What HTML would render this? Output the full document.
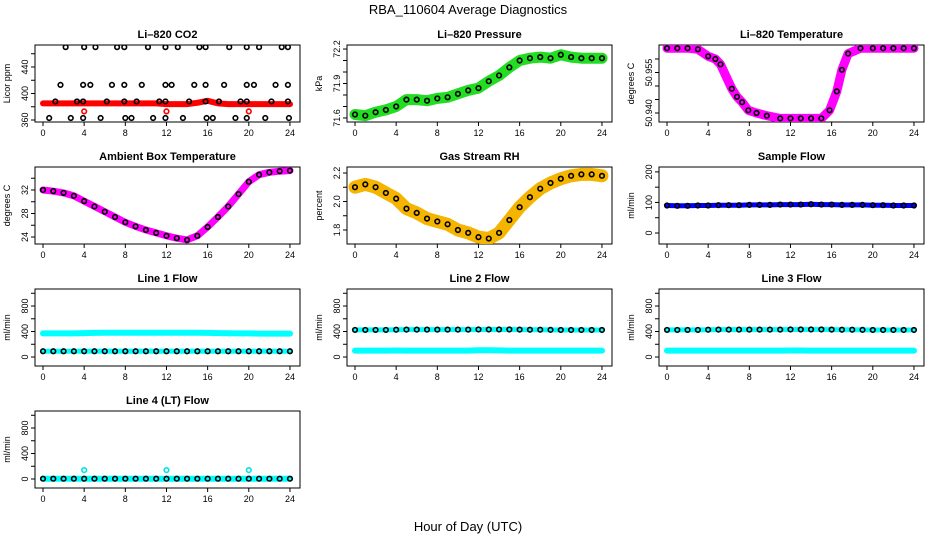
<!DOCTYPE html>
<html><head><meta charset="utf-8"><style>
html,body{margin:0;padding:0;background:#fff;}
svg{display:block;font-family:"Liberation Sans",Arial,sans-serif;}
</style></head><body>
<svg id="chart" width="936" height="540" viewBox="0 0 936 540">
<text x="468" y="14" text-anchor="middle" font-size="13">RBA_110604  Average Diagnostics</text>
<text x="468" y="531" text-anchor="middle" font-size="13">Hour of Day (UTC)</text>
</svg>
<script>
// ---- data ----
const hoursHourly = [0,1,2,3,4,5,6,7,8,9,10,11,12,13,14,15,16,17,18,19,20,21,22,23,24];
const co2Red = [385,385,385,385,385,385,385,385,385,385,385,385,384,384,384,386,389,385,384,384,384,384,384,384,384];
const co2OutlierHours = [4,12,20];
const co2OutlierValues = [373,373,373];
const co2BlackHours = [2.2,4.0,5.1,7.2,7.9,10.2,11.9,13.1,15.2,15.8,18.1,19.8,21,23.2,23.8,
 1.7,3.9,4.6,6.7,7.9,9.6,11.9,12.5,14.7,15.8,17.6,19.8,20.5,22.6,23.8,
 1.2,3.3,3.9,6.2,7.9,9.1,11.3,11.9,14.2,15.8,17.1,19.2,19.8,22.2,23.8,
 0.6,2.7,3.9,5.6,8,8.6,10.7,11.9,13.6,15.9,16.5,18.7,19.8,21.6,23.9];
const co2BlackValues = [470,470,470,470,470,470,470,470,470,470,470,470,470,470,470,
 413,413,413,413,413,413,413,413,413,413,413,413,413,413,413,
 388,388,388,388,388,388,388,388,388,388,388,388,388,388,388,
 363,363,363,363,363,363,363,363,363,363,363,363,363,363,363];
const pressure = [71.63,71.62,71.65,71.67,71.70,71.76,71.76,71.75,71.77,71.78,71.81,71.84,71.86,71.92,71.97,72.04,72.10,72.12,72.13,72.12,72.15,72.13,72.12,72.12,72.12];
const tempHours = [0,1,2,3,4,4.7,5.2,6.3,6.8,7.3,7.9,8.7,9.7,11,12,13,14,15,15.8,16.5,17,17.6,18.8,20,21,22,23,24];
const licorTemp = [50.964,50.964,50.964,50.9636,50.961,50.960,50.958,50.949,50.946,50.944,50.941,50.940,50.939,50.938,50.938,50.938,50.938,50.938,50.941,50.948,50.956,50.962,50.964,50.964,50.964,50.964,50.964,50.964];
const ambientTemp = [32.0,31.8,31.5,31.0,30.1,29.2,28.3,27.4,26.5,25.8,25.2,24.7,24.2,23.8,23.5,24.2,25.7,27.4,29.2,31.3,33.4,34.6,35.0,35.2,35.3];
const gasRH = [2.10,2.12,2.10,2.06,2.02,1.95,1.92,1.88,1.86,1.84,1.80,1.78,1.75,1.74,1.78,1.87,1.96,2.03,2.09,2.13,2.16,2.18,2.19,2.19,2.18];
const sampleFlow = [90,89,89,90,90,91,91,91,92,92,92,93,93,93,94,93,93,92,92,92,91,91,90,90,90];
const line1Upper = [370,370,370,370,375,378,380,380,380,380,380,380,380,380,380,380,378,375,372,370,370,368,368,368,368];
const line1Lower = [90,90,90,90,90,90,90,90,90,90,90,90,90,90,90,90,90,90,90,90,90,90,90,90,90];
const line2Black = [425,425,425,425,428,430,430,430,430,430,430,430,432,432,432,432,430,428,428,426,424,424,424,424,424];
const line2Cyan = [100,100,100,100,102,100,100,100,100,100,100,100,105,105,103,100,100,100,100,100,100,100,100,100,100];
const line3Black = [425,425,425,425,428,430,430,430,430,430,430,430,432,432,432,432,430,428,428,426,424,424,424,424,424];
const line3Cyan = [100,100,100,100,100,100,100,100,100,100,100,100,102,102,100,100,100,100,100,100,100,100,100,100,100];
const line4Black = [5,5,5,5,5,5,5,5,5,5,5,5,5,5,5,5,5,5,5,5,5,5,5,5,5];
const line4Cyan = [5,5,5,5,5,5,5,5,5,5,5,5,5,5,5,5,5,5,5,5,5,5,5,5,5];
const line4OutlierHours = [4,12,20];
const line4OutlierValues = [140,140,140];
const xTicks = [0,4,8,12,16,20,24];

const NS='http://www.w3.org/2000/svg';
const svg=document.getElementById('chart');
function mk(tag,attrs,parent){const e=document.createElementNS(NS,tag);for(const k in attrs)e.setAttribute(k,attrs[k]);(parent||svg).appendChild(e);return e;}

const colX=[35,347,659], rowY=[45,167,289,411], W=265, H=77;

function panel(o){
  const bx=colX[o.col], by=rowY[o.row];
  const g=mk('g',{});
  
  
  const xs=h=>bx+8+(h+0)*10.29;
  const ys=v=>by+H-(v-o.ymin)/(o.ymax-o.ymin)*H;
  const clip='clip-'+o.name;
  const cp=mk('clipPath',{id:clip},g);mk('rect',{x:bx,y:by,width:W,height:H},cp);
  const t=mk('text',{x:bx+W/2,y:by-7,'text-anchor':'middle','font-size':'11','font-weight':'bold'},g);
  t.textContent=o.title;
  
  
  mk('rect',{x:bx,y:by,width:W,height:H,fill:'none',stroke:'#000','stroke-width':1},g);
  // x axis
  for(const h of xTicks){
    mk('line',{x1:xs(h),x2:xs(h),y1:by+H,y2:by+H+4,stroke:'#000'},g);
    const l=mk('text',{x:xs(h),y:by+H+14,'text-anchor':'middle','font-size':'9'},g);
    l.textContent=h;
    
    
  }
  mk('line',{x1:xs(0),x2:xs(24),y1:by+H,y2:by+H,stroke:'#000'},g);
  // y axis
  for(const v of o.ticks){
    mk('line',{x1:bx,x2:bx-4,y1:ys(v),y2:ys(v),stroke:'#000'},g);
  }
  for(const v of o.labels){
    const l=mk('text',{x:0,y:0,'text-anchor':'middle','font-size':'9',transform:`translate(${bx-7},${ys(v)}) rotate(-90)`},g);
    l.textContent=o.fmt?o.fmt(v):v;
    
    
  }
  const yl=mk('text',{x:0,y:0,'text-anchor':'middle','font-size':'9',transform:`translate(${bx-25},${by+H/2}) rotate(-90)`},g);
  yl.textContent=o.ylab;
  
  
  const pg=mk('g',{'clip-path':`url(#${clip})`},g);
  for(const s of o.series){
    if(s.band){
      const pts=s.x.map((h,i)=>xs(h).toFixed(1)+','+ys(s.y[i]).toFixed(1)).join(' ');
      const pl=mk('polyline',{points:pts,fill:'none',stroke:s.color,'stroke-width':s.band,'stroke-linejoin':'round','stroke-linecap':'round'},pg);
      
      
    }
    if(s.circles){
      s.x.forEach((h,i)=>{
        const c=mk('circle',{cx:xs(h),cy:ys(s.y[i]),r:2.3,fill:'none',stroke:s.ccolor||'#000','stroke-width':1.6},pg);
        
        
      });
    }
  }
}
// half-step helper for circles (uses only hourly data points)
panel({name:'co2-panel',title:'Li\u2013820 CO2',col:0,row:0,ymin:357,ymax:473.2,ticks:[360,380,400,420,440,460],labels:[360,400,440],ylab:'Licor ppm',
 series:[{name:'co2-red',x:hoursHourly,y:co2Red,color:'#ff0000',band:6},
  {name:'co2-outlier',x:co2OutlierHours,y:co2OutlierValues,circles:true,ccolor:'#ff0000'},
  {name:'co2-black',x:co2BlackHours,y:co2BlackValues,circles:true}]});
panel({name:'pressure-panel',title:'Li\u2013820 Pressure',col:1,row:0,ymin:71.565,ymax:72.235,ticks:[71.6,71.7,71.8,71.9,72.0,72.1,72.2],labels:[71.6,71.9,72.2],fmt:v=>v.toFixed(1),ylab:'kPa',
 series:[{name:'pressure',x:hoursHourly,y:pressure,color:'#22dd22',band:11,circles:true}]});
panel({name:'licor-temp-panel',title:'Li\u2013820 Temperature',col:2,row:0,ymin:50.93667,ymax:50.96519,ticks:[50.940,50.945,50.950,50.955,50.960],labels:[50.940,50.955],fmt:v=>v.toFixed(3),ylab:'degrees C',
 series:[{name:'licor-temp',x:tempHours,y:licorTemp,color:'#ff00ff',band:9,circles:true}]});
panel({name:'ambient-temp-panel',title:'Ambient Box Temperature',col:0,row:1,ymin:22.81,ymax:35.91,ticks:[24,26,28,30,32,34],labels:[24,28,32],ylab:'degrees C',
 series:[{name:'ambient-temp',x:hoursHourly,y:ambientTemp,color:'#ff00ff',band:7,circles:true}]});
panel({name:'gas-rh-panel',title:'Gas Stream RH',col:1,row:1,ymin:1.7018,ymax:2.242,ticks:[1.8,1.9,2.0,2.1,2.2],labels:[1.8,2.0,2.2],fmt:v=>v.toFixed(1),ylab:'percent',
 series:[{name:'gas-rh',x:hoursHourly,y:gasRH,color:'#f5b400',band:13,circles:true}]});
panel({name:'sample-flow-panel',title:'Sample Flow',col:2,row:1,ymin:-36,ymax:216,ticks:[0,50,100,150,200],labels:[0,100,200],ylab:'ml/min',
 series:[{name:'sample-flow',x:hoursHourly,y:sampleFlow,color:'#0000ff',band:5,circles:true}]});
const flowTicks=[0,200,400,600,800,1000], flowLabels=[0,400,800];
panel({name:'line1-flow-panel',title:'Line 1 Flow',col:0,row:2,ymin:-141,ymax:1067,ticks:flowTicks,labels:flowLabels,ylab:'ml/min',
 series:[{name:'line1-upper',x:hoursHourly,y:line1Upper,color:'#00ffff',band:6},
  {name:'line1-lower',x:hoursHourly,y:line1Lower,color:'#00ffff',band:5,circles:true}]});
panel({name:'line2-flow-panel',title:'Line 2 Flow',col:1,row:2,ymin:-141,ymax:1067,ticks:flowTicks,labels:flowLabels,ylab:'ml/min',
 series:[{name:'line2-cyan',x:hoursHourly,y:line2Cyan,color:'#00ffff',band:6},
  {name:'line2-black',x:hoursHourly,y:line2Black,color:'#00ffff',band:5,circles:true}]});
panel({name:'line3-flow-panel',title:'Line 3 Flow',col:2,row:2,ymin:-141,ymax:1067,ticks:flowTicks,labels:flowLabels,ylab:'ml/min',
 series:[{name:'line3-cyan',x:hoursHourly,y:line3Cyan,color:'#00ffff',band:6},
  {name:'line3-black',x:hoursHourly,y:line3Black,color:'#00ffff',band:5,circles:true}]});
panel({name:'line4-flow-panel',title:'Line 4 (LT) Flow',col:0,row:3,ymin:-141,ymax:1067,ticks:flowTicks,labels:flowLabels,ylab:'ml/min',
 series:[{name:'line4-cyan',x:hoursHourly,y:line4Cyan,color:'#00ffff',band:6},
  {name:'line4-outlier',x:line4OutlierHours,y:line4OutlierValues,circles:true,ccolor:'#00e5e5'},
  {name:'line4-black',x:hoursHourly,y:line4Black,circles:true}]});
</script>
</body></html>
